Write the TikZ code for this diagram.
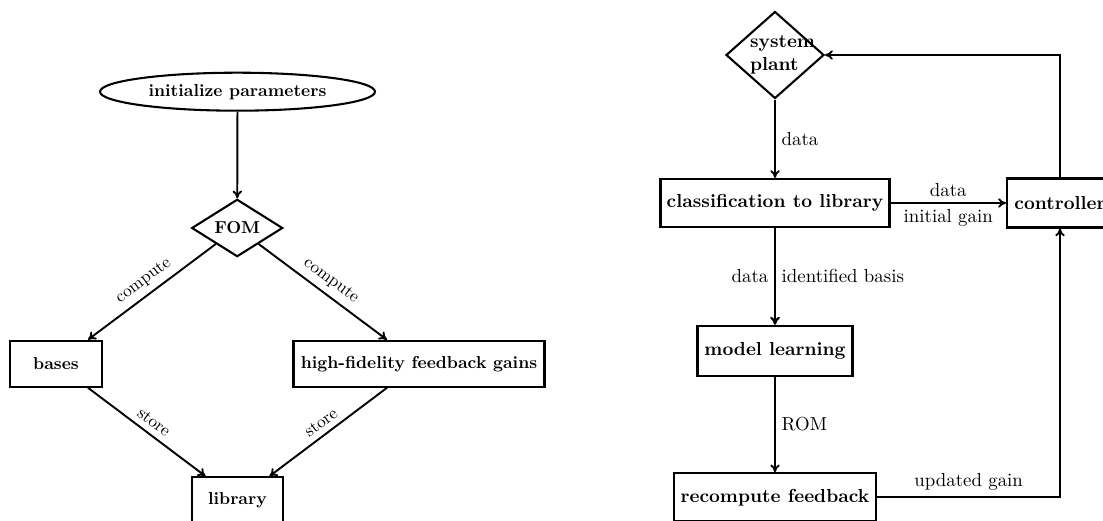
\documentclass[tikz,border=0pt]{standalone}
\usepackage{fontspec}
\usetikzlibrary{shapes.geometric,arrows.meta}
\begin{document}
\begin{tikzpicture}[x=0.578pt,y=-0.578pt,
  lfont/.style={font=\fontsize{10}{12}\selectfont},
  rfont/.style={font=\fontsize{10.9}{13}\selectfont},
  lbold/.style={font=\fontsize{10}{12}\selectfont\bfseries},
  rbold/.style={font=\fontsize{10.9}{13}\selectfont\bfseries},
  box/.style={draw,rectangle,line width=1.2pt},
  dia/.style={draw,diamond,line width=1.2pt,inner sep=0pt},
  conn/.style={-{To[length=4.5pt,width=5.5pt]},line width=1.1pt}
]
\clip (0,0) rectangle (1103,521);
% ---------- left diagram ----------
\node[draw,ellipse,line width=1.2pt,inner sep=0pt,minimum width=158.95pt,minimum height=21.96pt,lbold] (init) at (237.5,91.7) {initialize parameters};
\node[dia,aspect=1.585,minimum width=52.6pt,minimum height=33.18pt,lbold] (fom) at (237.2,228) {FOM};
\node[box,minimum width=53.18pt,minimum height=26.59pt,lbold] (bases) at (56,363.7) {bases};
\node[box,minimum width=145.08pt,minimum height=26.59pt,lbold] (hf) at (419,363.7) {high-fidelity feedback gains};
\node[box,minimum width=52.6pt,minimum height=26.59pt,lbold] (lib) at (237.5,500.3) {library};

\draw[conn] (init) -- (fom);
\draw[conn] (fom) -- node[midway,above,sloped,lfont] {compute} (bases);
\draw[conn] (fom) -- node[midway,above,sloped,lfont] {compute} (hf);
\draw[conn] (bases) -- node[midway,above,sloped,lfont] {store} (lib);
\draw[conn] (hf) -- node[midway,above,sloped,lfont] {store} (lib);

% ---------- right diagram ----------
\node[dia,aspect=1.126,minimum width=56.64pt,minimum height=50.29pt,rbold,text width=28.9pt] (plant) at (775,55) {system\\plant};
\node[box,minimum width=132.36pt,minimum height=27.74pt,rbold] (cls) at (775,203) {classification to library};
\node[box,minimum width=61.27pt,minimum height=28.32pt,rbold] (ctrl) at (1060,203) {controller};
\node[box,minimum width=89.59pt,minimum height=28.9pt,rbold] (ml) at (775,350.7) {model learning};
\node[box,minimum width=117.16pt,minimum height=27.74pt,rbold] (rec) at (775,497.3) {recompute feedback};

\draw[conn] (plant) -- node[midway,right,rfont] {data} (cls);
\draw[conn] (cls) -- node[midway,above,rfont] {data} node[midway,below,rfont] {initial gain} (ctrl);
\draw[conn] (ctrl.north) |- (plant.east);
\draw[conn] (cls) -- node[midway,left,rfont] {data} (ml);
\draw[conn,xshift=0.5pt] (cls) -- node[midway,right,rfont] {identified basis} (ml);
\draw[conn] (ml) -- node[midway,right,rfont] {ROM} (rec);
\draw[conn] (rec.east) -| node[pos=0.25,above,rfont] {updated gain} (ctrl.south);
\end{tikzpicture}
\end{document}
